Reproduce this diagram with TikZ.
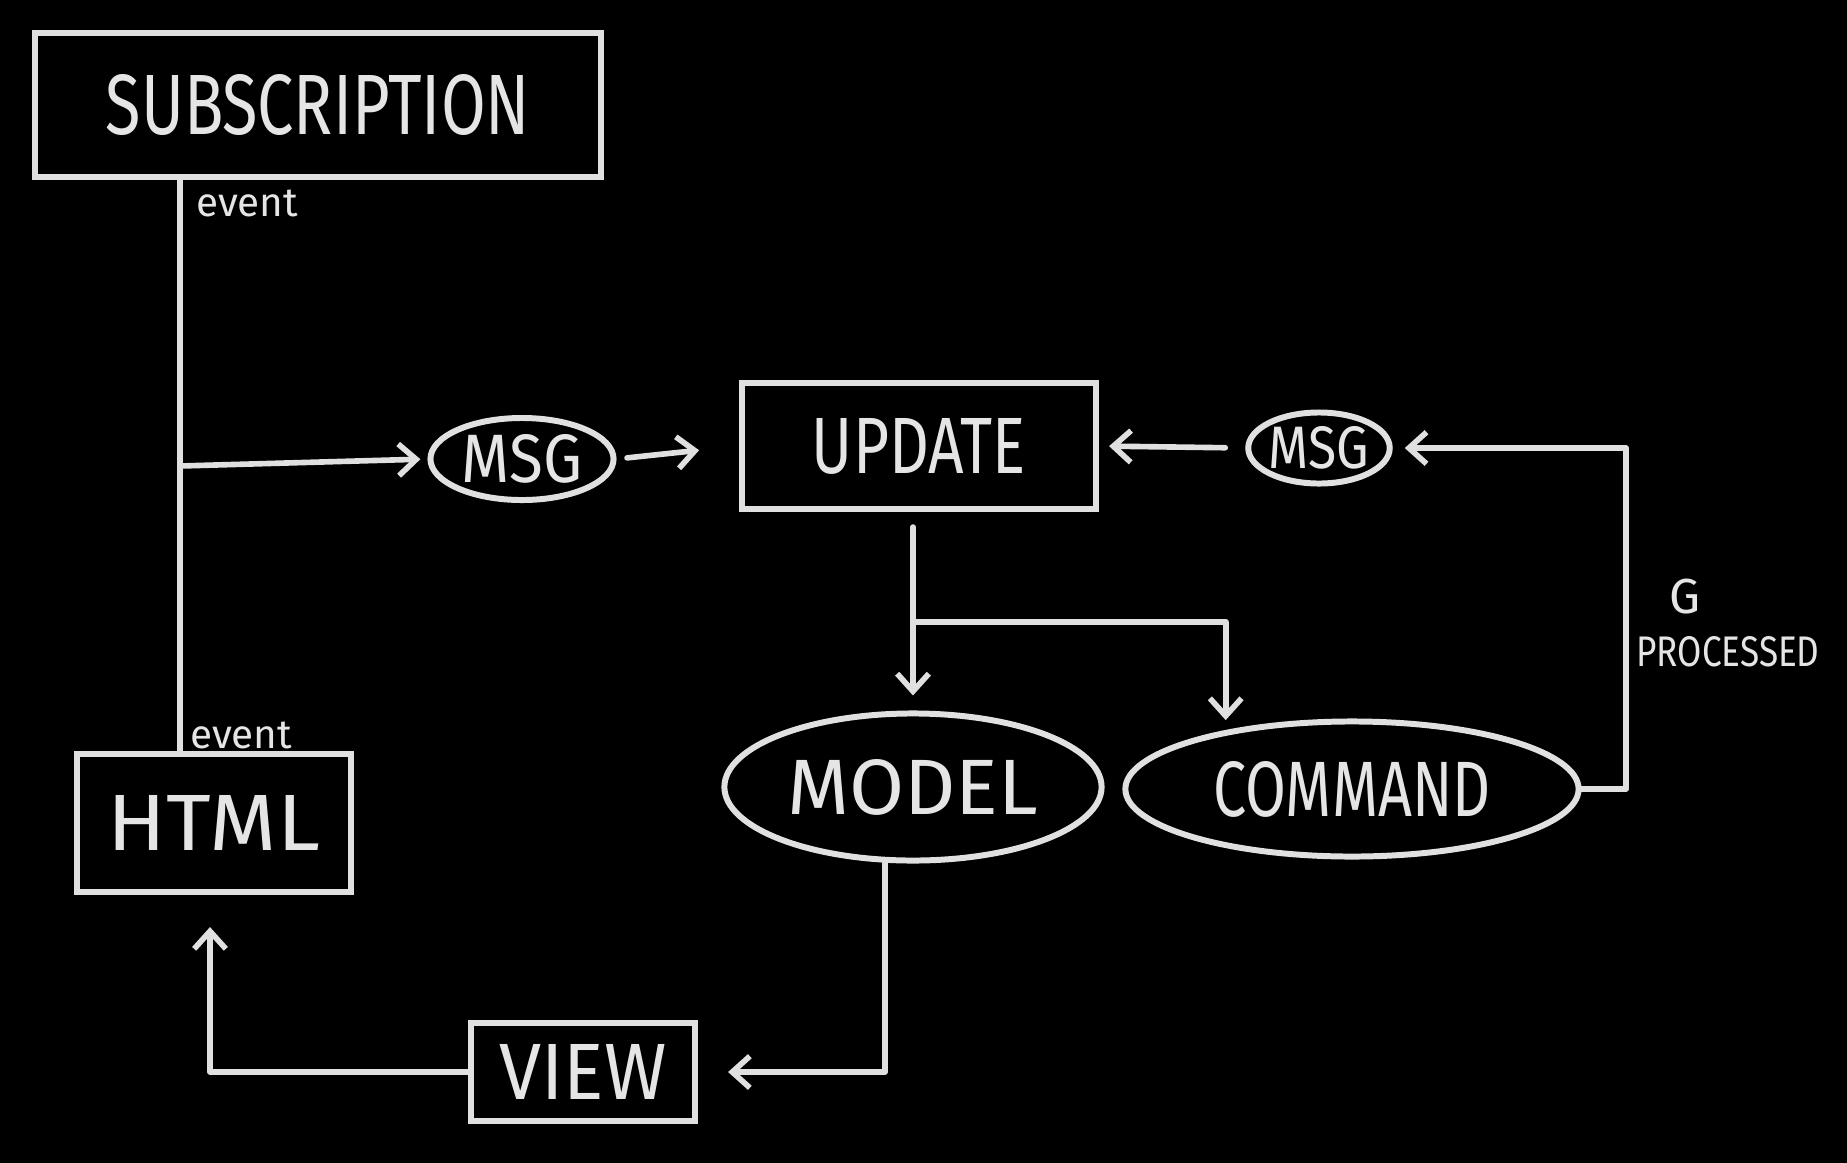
\documentclass[tikz,border=0pt]{standalone}
\usepackage{graphicx}
\usepackage{fontspec}
\setmainfont{Fira Sans}
\usetikzlibrary{shapes.geometric,arrows.meta,calc}
\newcommand{\hw}[3]{\resizebox{#1}{#2}{#3}}
\begin{document}
\begin{tikzpicture}[x=0.01cm,y=-0.01cm,
  chalk/.style={draw=white!88!black, line width=1.7pt},
  boxn/.style={chalk, rectangle, inner sep=0pt, text=white!90!black},
  ovaln/.style={chalk, ellipse, inner sep=0pt, text=white!90!black},
  conn/.style={draw=white!88!black, line width=1.6pt, line join=round, line cap=round},
  arr/.style={conn, -{Straight Barb[length=5pt,width=9pt,line width=1.6pt]}},
  lbl/.style={text=white!90!black, inner sep=1pt, font=\fontsize{11.5}{12}\selectfont}
]
\fill[black] (0,0) rectangle (1847,1163);
\useasboundingbox (0,0) rectangle (1847,1163);

% nodes
\node[boxn, minimum width=5.66cm, minimum height=1.44cm] (sub) at (318,105) {\hw{4.24cm}{0.6cm}{SUBSCRIPTION}};
\node[boxn, minimum width=2.74cm, minimum height=1.38cm] (html) at (214,823) {\hw{2.12cm}{0.55cm}{HTML}};
\node[boxn, minimum width=3.54cm, minimum height=1.26cm] (upd) at (919,446) {\hw{2.14cm}{0.55cm}{UPDATE}};
\node[boxn, minimum width=2.24cm, minimum height=0.97cm] (view) at (583,1072) {\hw{1.67cm}{0.55cm}{VIEW}};
\node[ovaln, minimum width=1.83cm, minimum height=0.82cm] (msg1) at (522,459) {\hw{1.2cm}{0.48cm}{MSG}};
\node[ovaln, minimum width=1.30cm, minimum height=0.71cm] (msg2) at (1319,448) {\hw{1.0cm}{0.42cm}{MSG}};
\node[ovaln, minimum width=3.77cm, minimum height=1.47cm] (model) at (913,787) {\hw{2.5cm}{0.55cm}{MODEL}};
\node[ovaln, minimum width=4.53cm, minimum height=1.35cm] (cmd) at (1352,789) {\hw{2.77cm}{0.55cm}{COMMAND}};

% labels
\node[lbl, anchor=west] (ev1) at (192,203) {event};
\node[lbl, anchor=west] (ev2) at (186,735) {event};
\node[lbl, anchor=center, font=\fontsize{14}{15}\selectfont] (g) at (1685,597) {G};
\node[anchor=center, text=white!90!black, inner sep=0pt] (proc) at (1728,652) {\hw{1.83cm}{0.3cm}{PROCESSED}};

% coordinates
\coordinate (jn) at (180,466);
\coordinate (rc) at (1626,0);
\coordinate (br) at (913,622);
\coordinate (mr) at (885,0);
\coordinate (hc) at (210,0);

% connectors
\draw[conn] (sub.south -| jn) -- (html.north -| jn);
\draw[arr, shorten >=2pt] (jn) -- (msg1.west);
\draw[arr, shorten <=3pt, shorten >=0.4cm] (msg1.east) -- (upd.west);
\draw[arr, shorten <=0.2cm, shorten >=0.1cm] (msg2.west) -- (upd.east);
\draw[arr, shorten >=0.12cm] (cmd.east) -- (cmd.east -| rc) -- (msg2.east -| rc) -- (msg2.east);
\draw[arr, shorten <=0.15cm, shorten >=0.15cm] (upd.south -| model.north) -- (model.north);
\draw[arr, shorten >=0.1cm] (br) -| (cmd.155);
\draw[arr, shorten >=0.3cm] (model.south -| mr) -- (mr |- view.east) -- (view.east);
\draw[arr, shorten >=0.32cm] (view.west) -- (hc |- view.west) -- (hc |- html.south);
\end{tikzpicture}
\end{document}
